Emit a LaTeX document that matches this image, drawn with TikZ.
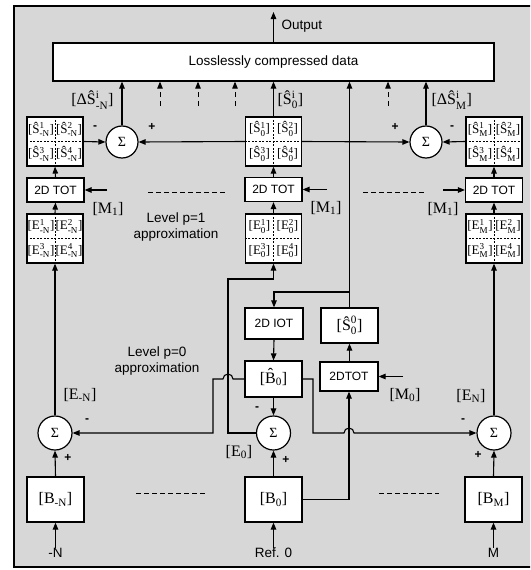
\documentclass[tikz,border=0pt]{standalone}
\usepackage{fontspec}
\setmainfont{Liberation Serif}
\setsansfont{Liberation Sans}
\usepackage{amsmath}
\usetikzlibrary{arrows.meta}
\definecolor{bg}{RGB}{215,215,215}
\newcommand{\hS}[2]{Ŝ$^{\text{#1}}_{\text{#2}}$}
\newcommand{\sE}[2]{E$^{\text{#1}}_{\text{#2}}$}
\newcommand{\hatB}{\ooalign{B\cr\hidewidth\raisebox{.22em}{ˆ}\hidewidth\cr}}
\newcommand{\gridcells}[5]{%
  \draw[gdash] (#1.north) -- (#1.south) (#1.west) -- (#1.east);
  \node[cell] (#1a) at ([xshift=-14pt,yshift=12.25pt]#1.center) {#2};
  \node[cell] (#1b) at ([xshift=14pt,yshift=12.25pt]#1.center) {#3};
  \node[cell] (#1c) at ([xshift=-14pt,yshift=-12.25pt]#1.center) {#4};
  \node[cell] (#1d) at ([xshift=14pt,yshift=-12.25pt]#1.center) {#5};
}
\begin{document}
\begin{tikzpicture}[x=1pt,y=-1pt,line width=1.1pt,
  arr/.style={-{Triangle[length=7pt,width=5.5pt]}},
  box/.style={draw,fill=white,inner sep=0pt,line width=1.2pt},
  grid/.style={box,minimum width=56pt,minimum height=49pt},
  tot/.style={box,minimum width=57pt,minimum height=24pt,font=\sffamily\fontsize{12}{13}\selectfont},
  sig/.style={draw,fill=white,circle,inner sep=0pt,line width=1.2pt,font=\rmfamily\fontsize{14}{15}\selectfont},
  cell/.style={inner sep=0pt,font=\rmfamily\fontsize{13}{14}\selectfont},
  gdash/.style={line width=0.6pt,dash pattern=on 2pt off 1.5pt},
  sanslbl/.style={inner sep=0pt,font=\sffamily\fontsize{13.5}{16}\selectfont},
  lbl/.style={inner sep=0pt,font=\rmfamily\fontsize{16}{18}\selectfont},
  sgn/.style={inner sep=0pt,font=\sffamily\bfseries\fontsize{12}{12}\selectfont},
  dline/.style={line width=0.8pt,dash pattern=on 5pt off 3pt},
  darr/.style={arr,dash pattern=on 5pt off 4pt},
  bbox/.style={box,minimum width=57pt,minimum height=45pt,font=\rmfamily\fontsize{16}{18}\selectfont}]
\useasboundingbox (0,0) rectangle (530,570);
\clip (0,0) rectangle (530,570);
\draw[fill=bg,line width=2pt] (14,6) rectangle (545,567);

% top box
\node[box,minimum width=441pt,minimum height=38pt,font=\sffamily\fontsize{13.5}{16}\selectfont] (lcd) at (273.5,62) {Losslessly compressed data};
\coordinate (outp) at (273.5,12);
\draw[arr] (lcd.north -| outp) -- (outp);
\node[sanslbl,anchor=west] (outl) at (281,26) {Output};

% top sums
\node[sig,minimum size=32pt] (SL) at (122,142) {Σ};
\node[sig,minimum size=32pt] (SR) at (426,142) {Σ};

% grids
\node[grid] (gSL) at (55,141.5) {};
\node[grid] (gSC) at (273.5,141.5) {};
\node[grid] (gSR) at (494,141.5) {};
\node[grid] (eL) at (55,238.5) {};
\node[grid] (eC) at (273.5,238.5) {};
\node[grid] (eR) at (494,238.5) {};
\gridcells{gSL}{[\hS{1}{-N}]}{[\hS{2}{-N}]}{[\hS{3}{-N}]}{[\hS{4}{-N}]}
\gridcells{gSC}{[\hS{1}{0}]}{[\hS{2}{0}]}{[\hS{3}{0}]}{[\hS{4}{0}]}
\gridcells{gSR}{[\hS{1}{M}]}{[\hS{2}{M}]}{[\hS{3}{M}]}{[\hS{4}{M}]}
\gridcells{eL}{[\sE{1}{-N}]}{[\sE{2}{-N}]}{[\sE{3}{-N}]}{[\sE{4}{-N}]}
\gridcells{eC}{[\sE{1}{0}]}{[\sE{2}{0}]}{[\sE{3}{0}]}{[\sE{4}{0}]}
\gridcells{eR}{[\sE{1}{M}]}{[\sE{2}{M}]}{[\sE{3}{M}]}{[\sE{4}{M}]}

% TOTs
\node[tot] (tL) at (55.5,190) {2D TOT};
\node[tot] (tC) at (273.5,189.5) {2D TOT};
\node[tot] (tR) at (494,190) {2D TOT};

% middle boxes
\node[box,minimum width=58pt,minimum height=31pt,font=\sffamily\fontsize{12}{13}\selectfont] (iot) at (274,323.5) {2D IOT};
\node[box,minimum width=57pt,minimum height=36pt,font=\rmfamily\fontsize{16}{18}\selectfont] (hB) at (273.5,379) {[\hatB$_{\text{0}}$]};
\node[box,minimum width=57pt,minimum height=35pt,font=\rmfamily\fontsize{16}{18}\selectfont] (s00) at (349.5,325.5) {[\hS{0}{0}]};
\node[box,minimum width=58pt,minimum height=29pt,font=\sffamily\fontsize{12}{13}\selectfont] (ttot) at (349,376.5) {2DTOT};

% bottom sums and B boxes
\node[sig,minimum size=34pt] (SBL) at (55,433) {Σ};
\node[sig,minimum size=34pt] (SBC) at (273.5,433) {Σ};
\node[sig,minimum size=34pt] (SBR) at (494,433) {Σ};
\node[bbox] (bL) at (55.5,499.5) {[B$_{\text{-N}}$]};
\node[bbox] (bC) at (273.5,499.5) {[B$_{\text{0}}$]};
\node[bbox] (bR) at (493.5,499.5) {[B$_{\text{M}}$]};
\node[sanslbl] (inL) at (55.5,553) {-N};
\node[sanslbl] (inC) at (273.5,553) {Ref. 0};
\node[sanslbl] (inR) at (493.5,553) {M};
\draw[arr] (inL.north) -- (bL.south);
\draw[arr] (inC.north) -- (bC.south);
\draw[arr] (inR.north) -- (bR.south);

% top connections
\draw[arr] (gSL.east) -- (SL.west);
\draw[arr] (gSC.west) -- (SL.east);
\draw[arr] (gSC.east) -- (SR.west);
\draw[arr] (gSR.west) -- (SR.east);
\draw[arr] (SL.north) -- (SL.north |- lcd.south);
\draw[arr] (SR.north) -- (SR.north |- lcd.south);
\draw[arr] (gSC.north) -- (gSC.north |- lcd.south);
\coordinate (d1) at (160,106);
\coordinate (d2) at (198,106);
\coordinate (d3) at (235,106);
\coordinate (d4) at (388,106);
\draw[darr,line width=0.9pt] (d1) -- (d1 |- lcd.south);
\draw[darr,line width=0.9pt] (d2) -- (d2 |- lcd.south);
\draw[darr,line width=0.9pt] (d3) -- (d3 |- lcd.south);
\draw[darr,line width=0.9pt] (d4) -- (d4 |- lcd.south);

\draw[arr] (tL.north) -- (gSL.south);
\draw[arr] (tC.north) -- (gSC.south);
\draw[arr] (tR.north) -- (gSR.south);
\draw[arr] (eL.north) -- (tL.south);
\draw[arr] (eC.north) -- (tC.south);
\draw[arr] (eR.north) -- (tR.south);

% M1 inputs
\coordinate (m1L) at (107,190);
\coordinate (m1C) at (327,189.5);
\coordinate (m1R) at (443,190);
\draw[arr] (m1L) -- (tL.east);
\draw[arr] (m1C) -- (tC.east);
\draw[arr] (m1R) -- (tR.west);
\node[lbl] (lm1L) at (108,209) {[M$_{\text{1}}$]};
\node[lbl] (lm1C) at (326,208) {[M$_{\text{1}}$]};
\node[lbl] (lm1R) at (443,209) {[M$_{\text{1}}$]};

% dashed separators
\draw[dline] (148,192) -- (225,192);
\draw[dline] (363,192) -- (425,192);
\draw[dline] (136,493) -- (206,493);
\draw[dline] (379,493) -- (439,493);

% level texts
\node[sanslbl,align=center] (lev1) at (176,227.5) {Level p=1\\approximation};
\node[sanslbl,align=center] (lev0) at (157,361.5) {Level p=0\\approximation};

% labels
\node[lbl,anchor=east] (dSL) at (114,100) {[ΔŜ$^{\text{i}}_{\text{-N}}$]};
\node[lbl,anchor=west] (dSC) at (277,100) {[Ŝ$^{\text{i}}_{\text{0}}$]};
\node[lbl,anchor=west] (dSR) at (431,100) {[ΔŜ$^{\text{i}}_{\text{M}}$]};

% signs
\node[sgn] (s1) at (95,128) {-};
\node[sgn] (s2) at (152,127) {+};
\node[sgn] (s3) at (395,127) {+};
\node[sgn] (s4) at (452,128) {-};
\node[sgn] (s5) at (87,421) {-};
\node[sgn] (s6) at (68,458) {+};
\node[sgn] (s7) at (257,409) {-};
\node[sgn] (s8) at (286,460) {+};
\node[sgn] (s9) at (463,421) {-};
\node[sgn] (s10) at (478,455) {+};

\node[lbl] (lEL) at (80,395) {[E$_{\text{-N}}$]};
\node[lbl] (lEC) at (239,452) {[E$_{\text{0}}$]};
\node[lbl] (lER) at (471,396) {[E$_{\text{N}}$]};
\node[lbl] (lM0) at (405,395) {[M$_{\text{0}}$]};

% bottom verticals
\draw[arr] (bL.north) -- (SBL.south);
\draw[arr] (bC.north) -- (SBC.south);
\draw[arr] (bR.north) -- (SBR.south);
\draw[arr] (SBL.north) -- (eL.south);
\draw[arr] (SBR.north) -- (eR.south);

% B-hat to left sum (jump over x=228)
\draw[arr] (hB.west) -- (233,379) arc[start angle=0,end angle=180,radius=5pt] -- (213,379) -- (213,433) -- (SBL.east);
% B-hat to right sum (jump over x=349)
\draw[arr] (hB.east) -- (313,379) -- (313,433) -- (344,433) arc[start angle=180,end angle=0,radius=5pt] -- (SBR.west);
\draw[arr] (hB.south) -- (SBC.north);
% E0 path
\coordinate (ej) at (228,279);
\draw[arr] (SBC.west) -| (ej) -- (ej -| eC.south) -- (eC.south);
% iot to B-hat
\draw[arr] (iot.south) -- (hB.north);
% B0 to 2DTOT
\draw[arr] (bC.east) -| (ttot.south);
\coordinate (m0) at (403,376.5);
\draw[arr] (m0) -- (ttot.east);
\draw[arr] (ttot.north) -- (s00.north |- ttot.north) -- (s00.south);
\draw[arr] (s00.north) -- (s00.north |- lcd.south);
\coordinate (br) at (274,292);
\draw[arr] (br -| s00.north) -- (br) -- (iot.north);
\end{tikzpicture}
\end{document}
